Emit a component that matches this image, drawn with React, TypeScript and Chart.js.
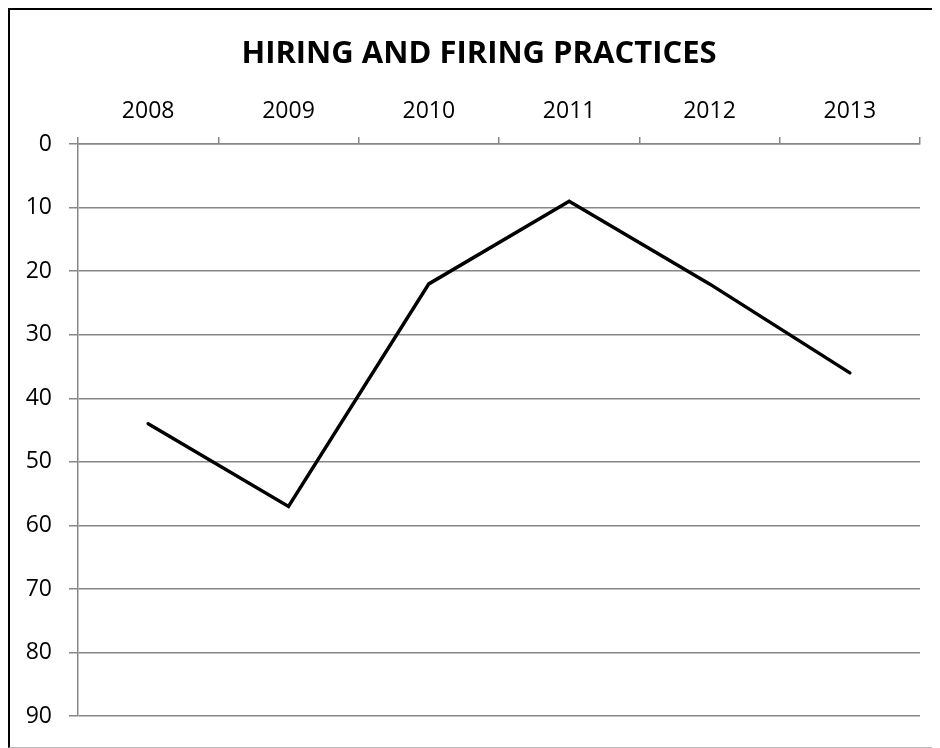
import React, { useEffect, useRef } from "react";
import { Chart, registerables } from "chart.js";

Chart.register(...registerables);

const categories = ["2008", "2009", "2010", "2011", "2012", "2013"];
const values = [44, 57, 22, 9, 22, 36];
const yMin = 0;
const yMax = 90;
const yStep = 10;
const titleText = "HIRING AND FIRING PRACTICES";

const CANVAS_W = 930;
const CANVAS_H = 737;

export default function App() {
  const ref = useRef<HTMLCanvasElement | null>(null);

  useEffect(() => {
    if (!ref.current) return;
    const font = "'Open Sans', 'Noto Sans', sans-serif";
    const gridColor = "#878787";
    const titleSize = 31;

    const titlePlugin = {
      id: "chartTitle",
      afterDraw(c: any) {
        const ctx = c.ctx;
        ctx.save();
        ctx.font = `bold ${titleSize}px ${font}`;
        ctx.fillStyle = "#000000";
        ctx.textAlign = "center";
        ctx.textBaseline = "alphabetic";
        ctx.fillText(titleText, 469, 53);
        ctx.restore();
      },
    };

    const chart = new Chart(ref.current, {
      type: "line",
      data: {
        labels: categories,
        datasets: [
          {
            data: values,
            borderColor: "#000000",
            borderWidth: 3.5,
            pointRadius: 0,
            pointHoverRadius: 0,
            tension: 0,
            fill: false,
            borderCapStyle: "round",
          },
        ],
      },
      options: {
        responsive: false,
        animation: false,
        devicePixelRatio: 1,
        layout: { padding: { left: 0, right: 20, top: 0, bottom: 29 } },
        plugins: {
          legend: { display: false },
          tooltip: { enabled: false },
          title: { display: false },
        },
        scales: {
          x: {
            position: "top",
            offset: true,
            afterFit: (scale: any) => {
              scale.height = 134;
            },
            grid: {
              offset: true,
              drawOnChartArea: false,
              drawTicks: true,
              tickLength: 7,
              color: gridColor,
              lineWidth: 1.5,
            },
            border: { display: true, color: gridColor, width: 1.5 },
            ticks: {
              color: "#000000",
              font: { family: font, size: 23 },
              padding: 12,
              maxRotation: 0,
            },
          },
          y: {
            reverse: true,
            min: yMin,
            max: yMax,
            afterFit: (scale: any) => {
              scale.width = 68;
            },
            grid: {
              drawOnChartArea: true,
              drawTicks: true,
              tickLength: 9,
              color: gridColor,
              lineWidth: 1.5,
            },
            border: { display: true, color: gridColor, width: 1.5 },
            ticks: {
              stepSize: yStep,
              color: "#000000",
              font: { family: font, size: 23 },
              padding: 17,
            },
          },
        },
      },
      plugins: [titlePlugin],
    });
    return () => chart.destroy();
  }, []);

  return (
    <div
      style={{
        width: 932,
        height: 740,
        boxSizing: "border-box",
        borderLeft: "2px solid #000",
        borderTop: "2px solid #000",
        borderBottom: "1px solid #bbb",
        background: "#fff",
        overflow: "hidden",
      }}
    >
      <canvas ref={ref} width={CANVAS_W} height={CANVAS_H} style={{ display: "block" }} />
    </div>
  );
}
